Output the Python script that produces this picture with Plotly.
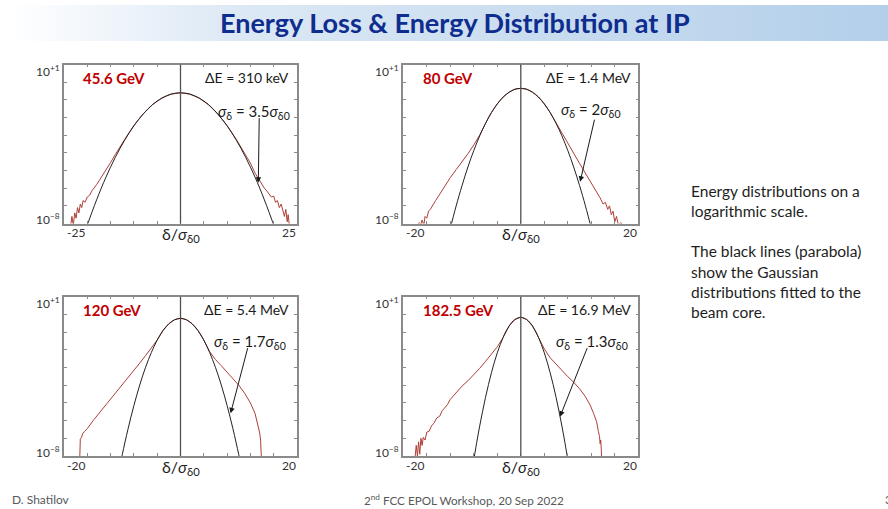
import plotly.graph_objects as go

W, H = 888, 509

# ---------------- data ----------------
energies = ["45.6 GeV", "80 GeV", "120 GeV", "182.5 GeV"]
dE_labels = ["ΔE = 310 keV", "ΔE = 1.4 MeV", "ΔE = 5.4 MeV", "ΔE = 16.9 MeV"]
sigma_ratios = ["3.5", "2", "1.7", "1.3"]
x_half_ranges = [25, 20, 20, 20]
x_tick_labels = [["-25", "25"], ["-20", "20"], ["-20", "20"], ["-20", "20"]]
y_tick_labels = ["10<sup>+1</sup>", "10<sup>−8</sup>"]
y_log_range = [-8, 1]

# panel 1 (45.6 GeV): log10 of the distribution
red_x_1 = [-23.6, -23.3, -23.0, -22.7, -22.4, -22.1, -21.8, -21.5, -21.2, -20.9, -20.5, -20.0,
           -19.5, -19.0, -18.0, -17.0, -16.0, -15.0, -14.0, -13.0, -12.0, -11.0, -10.0, -8.0,
           -6.0, -4.0, -2.0, 0.0, 2.0, 4.0, 6.0, 8.0, 10.0, 12.0, 13.0, 14.0, 15.0, 16.0, 17.0,
           18.0, 18.5, 19.0, 19.5, 20.0, 20.4, 20.8, 21.2, 21.6, 22.0, 22.3, 22.6, 22.9, 23.1, 23.4]
red_logy_1 = [-8.2, -7.6, -8.1, -7.4, -7.7, -7.1, -7.4, -6.9, -7.1, -6.7, -6.8, -6.5,
              -6.4, -6.15, -5.8, -5.4, -5.0, -4.55, -4.1, -3.65, -3.25, -2.85, -2.45, -1.79,
              -1.27, -0.9, -0.675, -0.6, -0.675, -0.9, -1.27, -1.8, -2.46, -3.25, -3.68, -4.12,
              -4.58, -5.15, -5.6, -6.0, -6.15, -6.3, -6.5, -6.45, -6.8, -6.7, -7.1, -6.9, -7.3,
              -7.6, -7.2, -7.9, -7.5, -8.2]
black_x_1 = [-20.5, -18, -16, -14, -12, -10, -8, -6, -4, -2, 0, 2, 4, 6, 8, 10, 12, 14, 16, 18, 20.5]
black_logy_1 = [-8.45, -6.66, -5.38, -4.26, -3.29, -2.47, -1.80, -1.27, -0.90, -0.675, -0.6,
                -0.675, -0.90, -1.27, -1.80, -2.47, -3.29, -4.26, -5.38, -6.66, -8.45]

# panel 2 (80 GeV)
red_x_2 = [-17.6, -17.3, -17.0, -16.8, -16.5, -16.3, -16.0, -15.7, -15.4, -15.0, -14.5, -14.0,
           -13.2, -12.0, -11.0, -10.3, -9.0, -8.0, -7.0, -6.0, -5.0, -4.0, -3.0, -2.0, -1.0, 0.0,
           1.0, 2.0, 3.0, 4.0, 5.0, 6.0, 7.0, 8.0, 9.0, 10.0, 11.0, 12.0, 13.0, 13.5, 14.0, 14.4,
           14.8, 15.1, 15.4, 15.7, 16.0, 16.3, 16.6, 17.0, 17.4]
red_logy_2 = [-8.1, -7.95, -8.05, -7.8, -8.1, -7.6, -7.7, -7.3, -7.2, -6.95, -6.7, -6.45,
              -6.0, -5.4, -4.95, -4.65, -4.05, -3.55, -3.0, -2.33, -1.72, -1.23, -0.84, -0.57,
              -0.4, -0.35, -0.4, -0.57, -0.84, -1.23, -1.72, -2.3, -2.85, -3.45, -4.02, -4.6,
              -5.15, -5.72, -6.3, -6.55, -6.9, -6.8, -7.2, -7.0, -7.5, -7.3, -7.9, -7.6, -8.1,
              -7.95, -8.1]
black_x_2 = [-12.2, -11, -10, -9, -8, -7, -6, -5, -4, -3, -2, -1, 0,
             1, 2, 3, 4, 5, 6, 7, 8, 9, 10, 11, 12.2]
black_logy_2 = [-8.53, -7.0, -5.85, -4.8, -3.87, -3.04, -2.33, -1.72, -1.23, -0.84, -0.57, -0.40, -0.35,
                -0.40, -0.57, -0.84, -1.23, -1.72, -2.33, -3.04, -3.87, -4.8, -5.85, -7.0, -8.53]

# panel 3 (120 GeV)
red_x_3 = [-17.3, -17.25, -17.2, -17.0, -16.8, -16.5, -16.0, -15.0, -14.0, -13.0, -12.0, -11.0,
           -10.0, -9.0, -8.0, -7.0, -6.0, -5.0, -4.0, -3.0, -2.0, -1.0, 0.0, 1.0, 2.0, 3.0, 4.0,
           5.0, 6.0, 7.0, 8.0, 9.0, 10.0, 11.0, 12.0, 12.8, 13.3, 13.6, 13.75, 13.85, 13.9]
red_logy_3 = [-8.2, -7.5, -7.05, -6.95, -6.75, -6.62, -6.45, -6.0, -5.6, -5.2, -4.8, -4.38,
              -3.98, -3.58, -3.17, -2.75, -2.33, -1.9, -1.45, -0.91, -0.53, -0.30, -0.22, -0.30,
              -0.53, -0.91, -1.45, -2.1, -2.55, -2.9, -3.25, -3.6, -4.0, -4.45, -5.0, -5.6, -6.2,
              -6.7, -7.1, -7.5, -8.2]
black_x_3 = [-10.5, -10, -9, -8, -7, -6, -5, -4, -3, -2, -1, 0, 1, 2, 3, 4, 5, 6, 7, 8, 9, 10, 10.5]
black_logy_3 = [-8.71, -7.92, -6.46, -5.15, -3.99, -2.99, -2.15, -1.45, -0.91, -0.53, -0.30, -0.22,
                -0.30, -0.53, -0.91, -1.45, -2.15, -2.99, -3.99, -5.15, -6.46, -7.92, -8.71]

# panel 4 (182.5 GeV)
red_x_4 = [-18.0, -17.8, -17.6, -17.4, -17.2, -17.0, -16.8, -16.6, -16.3, -16.0, -15.6, -15.2,
           -14.8, -14.3, -13.8, -13.4, -13.0, -12.5, -12.0, -11.0, -10.0, -9.0, -8.0, -7.0, -6.0,
           -5.0, -4.0, -3.0, -2.0, -1.0, 0.0, 1.0, 2.0, 3.0, 3.5, 4.0, 5.0, 6.0, 7.0, 8.0, 9.0,
           10.0, 11.0, 11.8, 12.4, 12.9, 13.2, 13.4, 13.5, 13.6, 13.7, 13.75]
red_logy_4 = [-8.1, -7.4, -8.0, -7.2, -7.9, -7.0, -7.4, -6.95, -7.1, -6.65, -6.6, -6.3,
              -6.15, -5.85, -5.75, -5.45, -5.3, -5.1, -4.8, -4.4, -4.05, -3.75, -3.42, -3.05,
              -2.65, -2.25, -1.83, -1.3, -0.66, -0.29, -0.16, -0.29, -0.66, -1.29, -1.65, -1.95,
              -2.45, -2.82, -3.2, -3.52, -3.83, -4.2, -4.65, -5.12, -5.6, -6.06, -6.6, -6.9, -7.3,
              -7.1, -7.6, -8.2]
black_x_4 = [-8.3, -7.5, -7, -6.5, -6, -5.5, -5, -4.5, -4, -3.5, -3, -2.5, -2, -1.5, -1, 0,
             1, 1.5, 2, 2.5, 3, 3.5, 4, 4.5, 5, 5.5, 6, 6.5, 7, 7.5, 8.3]
black_logy_4 = [-8.81, -7.23, -6.31, -5.47, -4.68, -3.96, -3.30, -2.70, -2.17, -1.70, -1.29, -0.94,
                -0.66, -0.44, -0.29, -0.16, -0.29, -0.44, -0.66, -0.94, -1.29, -1.70, -2.17, -2.70,
                -3.30, -3.96, -4.68, -5.47, -6.31, -7.23, -8.81]

red_x = [red_x_1, red_x_2, red_x_3, red_x_4]
red_logy = [red_logy_1, red_logy_2, red_logy_3, red_logy_4]
black_x = [black_x_1, black_x_2, black_x_3, black_x_4]
black_logy = [black_logy_1, black_logy_2, black_logy_3, black_logy_4]

# arrow (tail -> tip) in data units: x, log10(y)
arrow_tail = [(16.9, -1.95), (12.6, -2.04), (11.6, -1.82), (11.4, -1.82)]
arrow_tip = [(16.7, -5.69), (10.1, -5.63), (8.6, -5.59), (6.67, -5.78)]

side_lines = ["Energy distributions on a", "logarithmic scale.", "",
              "The black lines (parabola)", "show the Gaussian",
              "distributions fitted to the", "beam core."]
title_text = "Energy Loss & Energy Distribution at IP"
footer_left = "D. Shatilov"
footer_mid = "2<sup>nd</sup> FCC EPOL Workshop, 20 Sep 2022"
page_no = "3"

# ---------------- layout geometry (pixels) ----------------
panel_px = [  # left, right, top, bottom
    (64.0, 297.0, 64.5, 223.5),
    (403.3, 638.3, 64.5, 223.5),
    (64.0, 297.0, 296.7, 456.0),
    (403.3, 638.3, 296.7, 456.0),
]

RED = "#ad3f35"
BLACK = "#222222"
AXC = "#8a8a8a"
FONT = "Lato, 'Open Sans', sans-serif"


def pxx(p):
    return p / W


def pxy(p):
    return 1 - p / H


fig = go.Figure()
layout = dict(
    width=W, height=H, margin=dict(l=0, r=0, t=0, b=0),
    paper_bgcolor="white", plot_bgcolor="rgba(0,0,0,0)",
    showlegend=False, font=dict(family=FONT, color="#222"),
)
annotations = []
shapes = []

for i in range(4):
    k = i + 1
    xa = "x" if k == 1 else f"x{k}"
    ya = "y" if k == 1 else f"y{k}"
    xkey = "xaxis" if k == 1 else f"xaxis{k}"
    ykey = "yaxis" if k == 1 else f"yaxis{k}"
    L, R, T, B = panel_px[i]
    half = x_half_ranges[i]

    fig.add_trace(go.Scatter(
        x=red_x[i], y=[10 ** v for v in red_logy[i]], xaxis=xa, yaxis=ya,
        mode="lines", line=dict(color=RED, width=1), hoverinfo="skip"))
    fig.add_trace(go.Scatter(
        x=black_x[i], y=[10 ** v for v in black_logy[i]], xaxis=xa, yaxis=ya,
        mode="lines", line=dict(color=BLACK, width=1, shape="spline", smoothing=1),
        hoverinfo="skip"))

    layout[xkey] = dict(
        domain=[pxx(L), pxx(R)], anchor=ya, range=[-half, half],
        showline=True, linecolor=AXC, linewidth=1.5, mirror="ticks",
        ticks="inside", ticklen=3, tickcolor=AXC, tickwidth=1,
        tick0=0, dtick=half / 5, showticklabels=False,
        showgrid=False, zeroline=False, fixedrange=True)
    layout[ykey] = dict(
        domain=[pxy(B), pxy(T)], anchor=xa, type="log", range=y_log_range,
        showline=True, linecolor=AXC, linewidth=1.5, mirror="ticks",
        ticks="inside", ticklen=3, tickcolor=AXC, tickwidth=1,
        dtick=1, showticklabels=False, showgrid=False, zeroline=False,
        fixedrange=True)

    # centre line at x = 0
    shapes.append(dict(type="line", xref=xa, yref=f"{ya} domain",
                       x0=0, x1=0, y0=0, y1=1,
                       line=dict(color="#505050", width=1.3)))

    # energy label
    annotations.append(dict(
        xref=f"{xa} domain", yref=f"{ya} domain", x=0.075, y=0.917,
        xanchor="left", yanchor="middle", showarrow=False,
        text=f"<b>{energies[i]}</b>",
        font=dict(family=FONT, size=15, color="#c00000")))
    # delta E
    annotations.append(dict(
        xref=f"{xa} domain", yref=f"{ya} domain", x=0.976, y=0.917,
        xanchor="right", yanchor="middle", showarrow=False,
        text=dE_labels[i], font=dict(family=FONT, size=14, color="#1a1a1a")))
    # sigma ratio
    sx = [0.979, 0.935, 0.963, 0.965][i]
    sy = [0.703, 0.714, 0.7175, 0.7175][i]
    annotations.append(dict(
        xref=f"{xa} domain", yref=f"{ya} domain", x=sx, y=sy,
        xanchor="right", yanchor="middle", showarrow=False,
        text=f"<i>σ</i><sub>δ</sub> = {sigma_ratios[i]}<i>σ</i><sub>δ0</sub>",
        font=dict(family=FONT, size=15, color="#1a1a1a")))
    # arrow
    annotations.append(dict(
        xref=xa, yref=ya, axref=xa, ayref=ya,
        x=arrow_tip[i][0], y=arrow_tip[i][1],
        ax=arrow_tail[i][0], ay=arrow_tail[i][1],
        text="", showarrow=True, arrowhead=2, arrowsize=1.1,
        arrowwidth=1, arrowcolor="#1a1a1a", standoff=0, startstandoff=0))

    # y end labels
    annotations.append(dict(
        xref="paper", yref="paper", x=pxx(L - 2.5), y=pxy(T + 6.5),
        xanchor="right", yanchor="middle", showarrow=False,
        text=y_tick_labels[0], font=dict(family=FONT, size=12, color="#333")))
    annotations.append(dict(
        xref="paper", yref="paper", x=pxx(L - 2.5), y=pxy(B - 4.5),
        xanchor="right", yanchor="middle", showarrow=False,
        text=y_tick_labels[1], font=dict(family=FONT, size=12, color="#333")))
    # x end labels
    annotations.append(dict(
        xref="paper", yref="paper", x=pxx(L + 1), y=pxy(B + 9.5),
        xanchor="left", yanchor="middle", showarrow=False,
        text=x_tick_labels[i][0], font=dict(family=FONT, size=12, color="#333")))
    annotations.append(dict(
        xref="paper", yref="paper", x=pxx(R + 1), y=pxy(B + 9.5),
        xanchor="right", yanchor="middle", showarrow=False,
        text=x_tick_labels[i][1], font=dict(family=FONT, size=12, color="#333")))
    # x axis title
    annotations.append(dict(
        xref="paper", yref="paper", x=pxx((L + R) / 2), y=pxy(B + 11),
        xanchor="center", yanchor="middle", showarrow=False,
        text="δ/<i>σ</i><sub>δ0</sub>", font=dict(family=FONT, size=16, color="#222")))

# ---- overlay axis in pixel units for the slide decoration ----
layout["xaxis5"] = dict(domain=[0, 1], range=[0, W], anchor="y5", visible=False, fixedrange=True)
layout["yaxis5"] = dict(domain=[0, 1], range=[H, 0], anchor="x5", visible=False, fixedrange=True)
fig.add_trace(go.Scatter(
    x=[10, W, W, 10, 10], y=[5, 5, 41, 41, 5], xaxis="x5", yaxis="y5",
    mode="lines", line=dict(width=0), fill="toself",
    fillgradient=dict(type="horizontal",
                      colorscale=[[0, "#ffffff"], [0.25, "#dde9f5"], [1, "#b3cfea"]]),
    hoverinfo="skip"))

annotations.append(dict(
    xref="paper", yref="paper", x=pxx(454.5), y=pxy(22.5),
    xanchor="center", yanchor="middle", showarrow=False,
    text=f"<b>{title_text}</b>", font=dict(family=FONT, size=27, color="#0e2d8e")))

annotations.append(dict(
    xref="paper", yref="paper", x=pxx(689), y=pxy(180),
    xanchor="left", yanchor="top", align="left", showarrow=False,
    text="<br>".join(side_lines), font=dict(family=FONT, size=15.5, color="#1e1e1e")))

annotations.append(dict(
    xref="paper", yref="paper", x=pxx(10), y=pxy(499),
    xanchor="left", yanchor="middle", showarrow=False,
    text=footer_left, font=dict(family=FONT, size=12, color="#595959")))
annotations.append(dict(
    xref="paper", yref="paper", x=pxx(463.5), y=pxy(499),
    xanchor="center", yanchor="middle", showarrow=False,
    text=footer_mid, font=dict(family=FONT, size=11.7, color="#595959")))
annotations.append(dict(
    xref="paper", yref="paper", x=pxx(882.5), y=pxy(499),
    xanchor="left", yanchor="middle", showarrow=False,
    text=page_no, font=dict(family=FONT, size=12, color="#595959")))

layout["annotations"] = annotations
layout["shapes"] = shapes
fig.update_layout(**layout)

fig.write_html("out.html", config={"displayModeBar": False},
               post_script="document.body.style.margin='0px';document.body.style.overflow='hidden';")
